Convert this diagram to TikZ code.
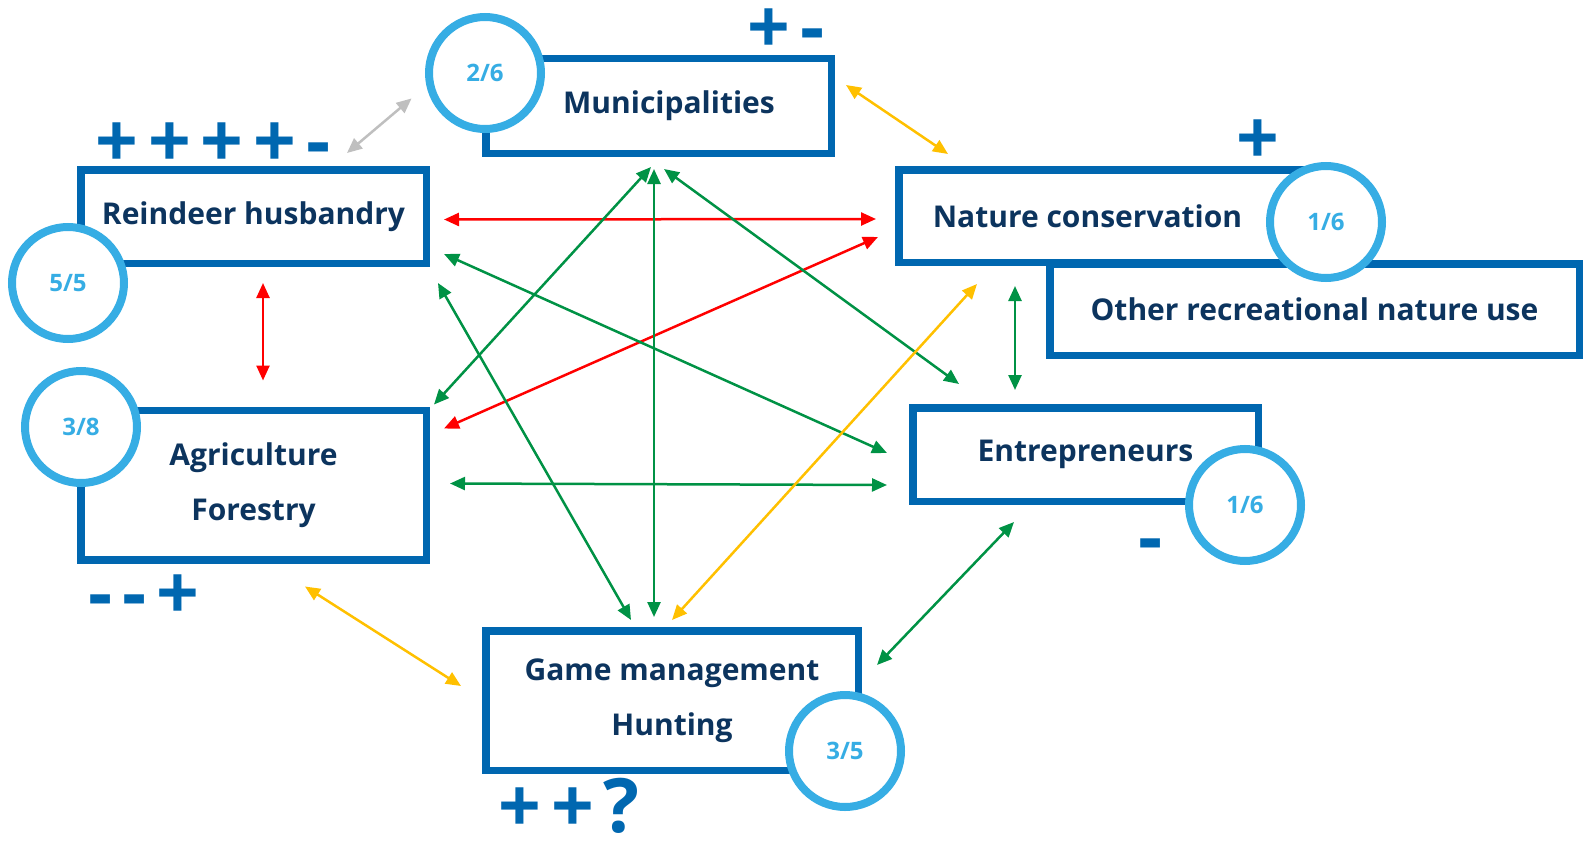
\documentclass[tikz,border=0pt]{standalone}
\usepackage{fontspec}
\setmainfont{Open Sans}
\usetikzlibrary{arrows.meta}
\definecolor{boxblue}{RGB}{0,103,176}
\definecolor{navy}{RGB}{12,52,94}
\definecolor{ringblue}{RGB}{54,173,228}
\definecolor{linkgreen}{RGB}{0,146,69}
\definecolor{linkred}{RGB}{255,0,0}
\definecolor{linkyellow}{RGB}{255,192,0}
\definecolor{linkgrey}{RGB}{191,191,191}
\newcommand{\sgap}{\kern10pt}

\begin{document}
\begin{tikzpicture}[x=1pt,y=-1pt,
  box/.style={draw=boxblue,line width=7.5pt,fill=white,inner sep=0pt,align=center,text=navy,font=\fontsize{30}{55}\selectfont\bfseries},
  ring/.style={circle,draw=ringblue,line width=8pt,fill=white,minimum size=112pt,inner sep=0pt,text=ringblue,font=\fontsize{24}{24}\selectfont\bfseries},
  sign/.style={anchor=base,text=boxblue,inner sep=0pt,font=\fontsize{75}{75}\selectfont\bfseries},
  link/.style={line width=2.5pt,>={Triangle[length=15pt,width=13pt]},<->}]
\useasboundingbox (0,0) rectangle (1585,843);
\node[box,minimum width=345.5pt,minimum height=94.5pt] (muni) at (658.5,106) {\hspace*{21pt}Municipalities};
\node[box,minimum width=345.5pt,minimum height=93.5pt] (reindeer) at (253.5,216.5) {Reindeer husbandry};
\node[box,minimum width=345.5pt,minimum height=149.5pt] (agri) at (253.5,485) {Agriculture\\Forestry};
\node[box,minimum width=427.5pt,minimum height=92.5pt] (nature) at (1112.5,216) {Nature conservation\hspace*{50pt}};
\node[box,minimum width=529.5pt,minimum height=91.5pt] (other) at (1314.5,309.5) {Other recreational nature use};
\node[box,minimum width=345.5pt,minimum height=93.5pt] (entre) at (1085.5,454.5) {Entrepreneurs};
\node[box,minimum width=372.5pt,minimum height=139.5pt] (game) at (672,700.5) {Game management\\Hunting};

\node[ring] (rmuni) at (485,73) {2/6};
\node[ring] (rreindeer) at (68,283) {5/5};
\node[ring] (ragri) at (81,427) {3/8};
\node[ring] (rnature) at (1326,222) {1/6};
\node[ring] (rentre) at (1245,505) {1/6};
\node[ring] (rgame) at (845,751) {3/5};

\node[sign] (preindeer) at (213,167) {+\sgap+\sgap+\sgap+\sgap-};
\node[sign] (pmuni) at (786,54) {+\sgap-};
\node[sign] (pnature) at (1258,164) {+};
\node[sign] (pentre) at (1151,563) {-};
\node[sign] (pagri) at (144,619) {-\sgap-\sgap+};
\node[sign] (pgame) at (569,832) {+\sgap+\sgap?};

\draw[link,linkgrey] ([shift={(-83,-13)}]reindeer.north east) -- ([shift={(-31,-17)}]rmuni.south west);
\draw[link,linkyellow] ([shift={(11,-21)}]muni.east) -- ([shift={(53,-12)}]nature.north west);
\draw[link,linkred] ([shift={(14,3)}]reindeer.east) -- ([shift={(-19,3)}]nature.west);
\draw[link,linkred] ([shift={(9.5,16)}]reindeer.south) -- ([shift={(9.5,-26)}]agri.north);
\draw[link,linkred] ([shift={(14,22)}]agri.north east) -- ([shift={(-17,21)}]nature.west);
\draw[link,linkgreen] ([shift={(4,-2)}]agri.north east) -- ([shift={(-7.5,10)}]muni.south);
\draw[link,linkgreen] ([shift={(-4.5,12)}]muni.south) -- ([shift={(-18,-10)}]game.north);
\draw[link,linkgreen] ([shift={(5.5,12)}]muni.south) -- ([shift={(50,-20)}]entre.north west);
\draw[link,linkgreen] ([shift={(14,37.5)}]reindeer.east) -- ([shift={(-22,-1.5)}]entre.west);
\draw[link,linkgreen] ([shift={(8,16)}]reindeer.south east) -- ([shift={(-41,-7)}]game.north);
\draw[link,linkgreen] ([shift={(20,-1.5)}]agri.east) -- ([shift={(-22,30.5)}]entre.west);
\draw[link,linkyellow] ([shift={(82,18)}]nature.south west) -- ([shift={(0,-7)}]game.north);
\draw[link,linkgreen] ([shift={(120,20)}]nature.south west) -- ([shift={(106,-14)}]entre.north west);
\draw[link,linkgreen] ([shift={(105,17)}]entre.south west) -- ([shift={(15,-35.5)}]game.east);
\draw[link,linkyellow] ([shift={(51.5,23)}]agri.south) -- ([shift={(-21,-14.5)}]game.west);
\end{tikzpicture}
\end{document}
